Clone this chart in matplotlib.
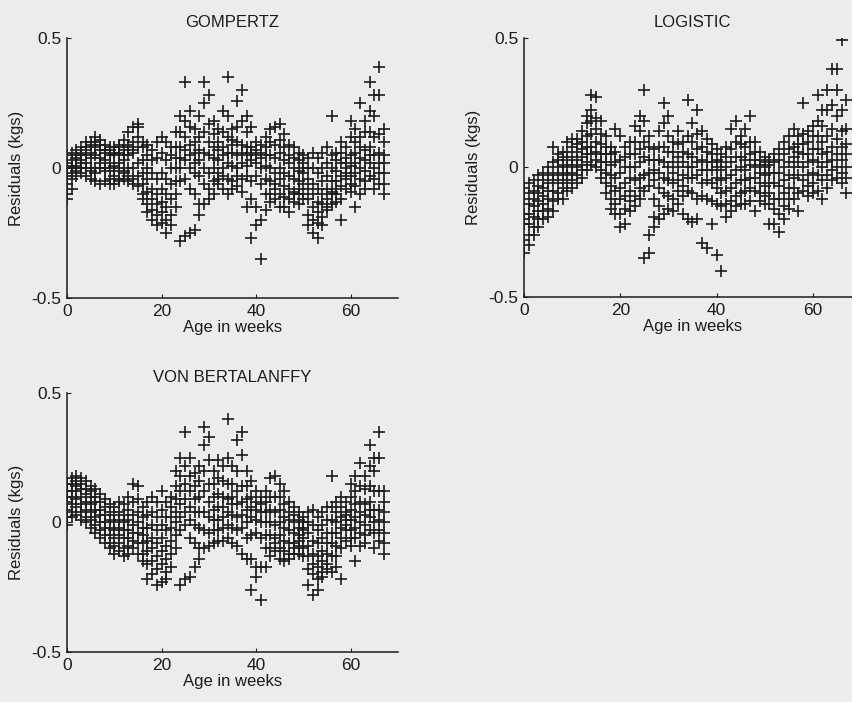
import matplotlib
matplotlib.use("Agg")
import matplotlib.pyplot as plt
import numpy as np

plt.rcParams['font.family'] = ['Liberation Sans', 'DejaVu Sans']

weeks = [0, 1, 2, 3, 4, 5, 6, 7, 8, 9, 10, 11, 12, 13, 14, 15, 16, 17, 18, 19,
         20, 21, 22, 23, 24, 25, 26, 27, 28, 29, 30, 31, 32, 33, 34, 35, 36, 37, 38, 39,
         40, 41, 42, 43, 44, 45, 46, 47, 48, 49, 50, 51, 52, 53, 54, 55, 56, 57, 58, 59,
         60, 61, 62, 63, 64, 65, 66, 67]

# Residuals in hundredths of a kg, one array per band of animals
gom_a = [5, 6, 7, 8, 10, 10, 12, 11, 9, 8, 8, 9, 11, 14, 16, 17, 10, 9, 7, 10,
         12, 10, 8, 14, 20, 33, 22, 15, 20, 33, 28, 18, 15, 22, 35, 15, 26, 30, 20, 16,
         10, 9, 12, 15, 16, 17, 13, 9, 8, 6, 5, 4, 6, 4, 6, 8, 20, 6, 10, 8,
         18, 15, 25, 18, 33, 28, 39, 15]
gom_b = [2, 3, 5, 6, 7, 6, 8, 7, 6, 5, 5, 6, 7, 9, 10, 12, 8, 5, 3, 4,
         6, 3, 5, 8, 14, 18, 16, 10, 12, 25, 17, 13, 10, 14, 20, 11, 16, 18, 14, 8,
         7, 6, 8, 10, 9, 11, 8, 5, 4, 3, 2, 0, 0, -2, 0, 2, 5, 3, 6, 4,
         12, 10, 12, 14, 22, 20, 28, 10]
gom_c = [0, 0, 1, 2, 5, 4, 5, 4, 3, 2, 1, 2, 3, 5, 6, 8, 3, 0, -2, -4,
         -2, -4, 0, 4, 8, 12, 9, 6, 7, 14, 10, 8, 7, 8, 12, 9, 10, 9, 8, 6,
         5, 4, 5, 5, 4, 6, 3, 2, 0, -1, -2, -4, -6, -8, -5, -3, 0, -1, 2, 0,
         5, 6, 8, 7, 14, 12, 13, 5]
gom_d = [-3, -2, -1, 0, 0, -1, 0, 0, -1, 0, -1, 0, -1, 0, 0, 2, -2, -4, -8, -10,
         -8, -10, -6, 0, 4, 7, 5, 2, 3, 6, 5, 4, 3, 5, 6, 6, 5, 6, 5, 3,
         2, 0, 1, 0, -2, 0, -2, -3, -4, -5, -6, -8, -10, -13, -10, -8, -5, -5, -3, -4,
         1, 2, 4, 3, 8, 5, 6, 2]
gom_e = [-6, -4, -3, -2, -3, -4, -2, -6, -5, -4, -3, -5, -4, -5, -4, -3, -6, -9, -12, -14,
         -13, -15, -12, -5, 0, 3, 0, -2, -3, 0, -2, 0, -2, 0, 2, 1, 0, 2, 1, -5,
         -3, -6, -4, -5, -6, -4, -7, -8, -9, -10, -10, -12, -15, -17, -14, -12, -9, -10, -7, -8,
         -3, -2, 0, -1, 2, 0, 2, -2]
gom_f = [-10, -8, 4, 5, 8, 9, 10, 9, 7, 7, 6, 8, 5, 8, 7, 16, -10, -14, -16, -18,
         -17, -20, -18, -10, -5, -4, -8, -10, -14, -6, -8, -5, -6, -3, -4, -5, -3, -4, -3, -12,
         -15, -20, -10, -10, -12, -10, -11, -12, -13, -14, -12, -18, -20, -21, -19, -16, -14, -13, -12, 2,
         -6, -7, -4, -5, -3, -4, -2, -6]
gom_g = [-12, 1, 0, 3, 2, 0, -5, 2, 0, -6, -6, -4, -2, -3, -6, -7, -12, -17, -20, -22,
         -21, -25, -22, -15, -28, -26, -25, -24, -18, -14, -12, -10, -4, -8, -10, -8, -7, -9, -15, -27,
         -22, -35, -16, -13, -8, -15, -15, -17, -10, -8, 0, -22, -25, -27, -22, -15, -10, -8, -20, -2,
         -9, -15, -10, -8, 5, -8, -6, -10]

log_a = [-8, -6, -5, -3, -2, 0, 8, 5, 6, 10, 11, 11, 14, 20, 28, 27, 18, 12, 8, 15,
         12, 8, 10, 16, 20, 30, 12, 7, 14, 25, 20, 10, 14, 10, 26, 17, 22, 14, 11, 9,
         7, 5, 8, 15, 18, 12, 15, 20, 10, 6, 4, 3, 5, 7, 10, 12, 15, 12, 25, 14,
         16, 28, 22, 30, 38, 38, 49, 26]
log_b = [-12, -10, -9, -7, -5, -3, 2, 3, 4, 6, 8, 9, 10, 17, 22, 19, 13, 8, 5, 6,
         3, 4, 5, 10, 14, 18, 8, 3, 8, 17, 12, 6, 9, 6, 12, 10, 13, 8, 6, 5,
         3, 2, 4, 7, 10, 9, 8, 10, 6, 3, 2, 1, 2, 3, 5, 7, 8, 9, 13, 10,
         12, 18, 16, 22, 24, 30, 22, 15]
log_c = [-18, -14, -12, -10, -8, -6, -2, 0, 1, 3, 4, 6, 7, 12, 18, 15, 9, 5, 1, 2,
         -2, 0, 0, 5, 7, 10, 3, -1, 3, 8, 6, 2, 4, 2, 5, 4, 7, 3, 2, 2,
         0, -1, 0, 2, 4, 4, 3, 5, 3, 1, 0, -2, -2, -2, 0, 2, 4, 6, 9, 5,
         7, 12, 10, 12, 15, 20, 14, 9]
log_d = [-20, -18, -15, -13, -11, -9, -5, -3, -2, 0, 1, 3, 4, 8, 13, 10, 5, 2, -3, -4,
         -8, -6, -4, 0, 2, 4, -2, -5, -2, 2, 0, -2, 0, -3, 0, 0, 2, -1, -1, -1,
         -4, -5, -4, -3, -1, 0, -1, 1, 0, -2, -3, -6, -6, -7, -5, -3, 0, 2, 5, 2,
         3, 7, 5, 6, 8, 11, 8, 5]
log_e = [-22, -22, -19, -17, -14, -12, -9, -6, -5, -3, -2, 0, 1, 5, 8, 6, 2, -2, -7, -9,
         -12, -11, -9, -5, -4, -3, -7, -12, -8, -4, -5, -6, -5, -7, -4, -4, -3, -6, -5, -6,
         -8, -10, -9, -8, -6, -5, -5, -4, -4, -6, -7, -10, -12, -12, -10, -8, -4, -3, 0, -3,
         -2, 2, 0, 2, 3, 5, 3, 0]
log_f = [-28, -26, -23, -20, -17, -16, -13, -10, -8, -6, -5, -3, -1, 2, 5, 3, -1, -6, -12, -14,
         -18, -16, -13, -11, -8, -9, -26, -19, -15, -10, -11, -12, -9, -11, -9, -10, -12, -11, -12, -13,
         -14, -15, -14, -13, -11, -10, -9, -8, -9, -10, -11, -14, -16, -18, -15, -12, -8, -10, -5, -7,
         -6, -3, -5, -3, -1, 0, -2, -4]
log_g = [-33, -30, -26, -23, -20, -19, -17, -12, -12, -9, -8, -6, -4, -1, 1, 0, -4, -10, -16, -18,
         -23, -22, -17, -15, -12, -35, -33, -23, -20, -18, -16, -17, -14, -18, -20, -21, -20, -29, -31, -22,
         -34, -40, -19, -17, -15, -14, -14, -13, -17, -13, -14, -22, -22, -25, -20, -16, -12, -17, -9, -11,
         -10, -9, -12, -8, -5, -4, -6, -10]

vb_a = [15, 17, 18, 17, 16, 14, 13, 11, 9, 7, 6, 8, 7, 10, 15, 14, 6, 8, 10, 8,
        12, 8, 10, 20, 25, 35, 25, 19, 22, 37, 33, 20, 24, 22, 40, 22, 32, 35, 20, 16,
        12, 10, 12, 17, 18, 15, 12, 8, 6, 4, 2, 4, 5, 2, 4, 6, 18, 8, 10, 8,
        15, 18, 23, 18, 30, 25, 35, 12]
vb_b = [12, 15, 16, 15, 13, 12, 10, 8, 6, 4, 3, 4, 3, 5, 8, 9, 2, 3, 4, 2,
        5, 2, 6, 14, 18, 22, 18, 14, 16, 30, 24, 15, 17, 16, 25, 15, 20, 26, 14, 10,
        8, 7, 8, 10, 10, 10, 7, 4, 3, 1, 0, 0, -1, -3, -1, 1, 6, 4, 6, 4,
        10, 12, 14, 13, 22, 20, 25, 8]
vb_c = [10, 12, 14, 13, 11, 10, 8, 5, 3, 1, 0, 1, 0, 1, 3, 4, -2, -2, -1, -3,
        -1, -3, 2, 9, 12, 15, 12, 9, 10, 20, 15, 10, 11, 10, 15, 10, 12, 14, 9, 6,
        5, 4, 4, 5, 4, 5, 2, 1, 0, -2, -3, -4, -7, -8, -6, -4, 1, 0, 2, 1,
        5, 7, 8, 7, 14, 12, 12, 4]
vb_d = [8, 10, 12, 10, 8, 7, 5, 3, 0, -2, -3, -2, -3, -3, -1, 0, -5, -7, -6, -8,
        -6, -9, -2, 4, 7, 9, 6, 4, 4, 12, 8, 5, 6, 6, 9, 7, 7, 8, 5, 2,
        1, 0, 0, 0, -1, 0, -2, -3, -4, -5, -6, -9, -12, -13, -11, -8, -4, -4, -2, -3,
        1, 2, 4, 3, 8, 5, 5, 0]
vb_e = [5, 7, 9, 7, 5, 4, 2, 0, -2, -5, -6, -5, -6, -6, -4, -4, -8, -11, -10, -13,
        -11, -14, -7, 0, 2, 4, 1, -1, -2, 4, 2, 1, 1, 2, 4, 3, 2, 3, 0, -5,
        -4, -6, -5, -5, -6, -5, -7, -8, -8, -9, -10, -13, -16, -17, -15, -12, -8, -9, -6, -7,
        -3, -2, 0, -1, 2, 0, 1, -4]
vb_f = [2, 4, 6, 4, 2, 1, -1, -3, -5, -8, -9, -8, -10, -9, -7, -8, -12, -16, -15, -18,
        -16, -19, -12, -5, -3, -1, -6, -8, -10, -3, -4, -3, -3, -2, -1, -2, -3, -2, -6, -14,
        -17, -17, -10, -10, -11, -10, -11, -12, -12, -12, -13, -18, -20, -22, -19, -16, -13, -13, -10, -1,
        -6, -6, -4, -5, -3, -4, -3, -8]
vb_g = [-1, 2, 3, 1, 0, -2, -4, -6, -8, -10, -12, -11, -13, -12, -10, -12, -15, -22, -20, -24,
        -23, -22, -17, -10, -24, -22, -21, -17, -14, -10, -9, -8, -7, -7, -6, -8, -9, -12, -14, -26,
        -21, -30, -17, -13, -8, -14, -15, -14, -10, -7, -2, -24, -28, -26, -21, -18, -19, -17, -22, 3,
        -9, -15, -9, -8, 5, -10, -7, -12]

titles = ["GOMPERTZ", "LOGISTIC", "VON BERTALANFFY"]
xticks = [0, 20, 40, 60]
yticks = [-0.5, 0, 0.5]
yticklabels = ["-0.5", "0", "0.5"]

bg = "#ececec"
ink = "#1c1c1c"

fig = plt.figure(figsize=(8.53, 7.02), dpi=100, facecolor=bg)

panels = [
    ([0.0785, 0.5755, 0.388, 0.370], [gom_a, gom_b, gom_c, gom_d, gom_e, gom_f, gom_g]),
    ([0.6143, 0.5770, 0.395, 0.369], [log_a, log_b, log_c, log_d, log_e, log_f, log_g]),
    ([0.0785, 0.0712, 0.388, 0.369], [vb_a, vb_b, vb_c, vb_d, vb_e, vb_f, vb_g]),
]

for (rect, series), title in zip(panels, titles):
    ax = fig.add_axes(rect)
    ax.set_facecolor(bg)
    for s in series:
        ax.plot(weeks, np.array(s) / 100.0, linestyle='none', marker='+',
                markersize=8.5, markeredgewidth=1.2, color=ink)
    ax.set_xlim(0, 70)
    ax.set_ylim(-0.5, 0.5)
    ax.set_xticks(xticks)
    ax.set_yticks(yticks)
    ax.set_yticklabels(yticklabels)
    for sp in ['top', 'right']:
        ax.spines[sp].set_visible(False)
    for sp in ['left', 'bottom']:
        ax.spines[sp].set_color(ink)
        ax.spines[sp].set_linewidth(1.1)
    ax.tick_params(direction='in', length=3, width=0.8, colors=ink,
                   labelsize=12.5, pad=4)
    ax.set_title(title, fontsize=12, color=ink, pad=8)
    ax.set_xlabel("Age in weeks", fontsize=12, color=ink, labelpad=1)
    ax.set_ylabel("Residuals (kgs)", fontsize=12, color=ink, labelpad=5)

fig.savefig("out.png", dpi=100, facecolor=bg)
